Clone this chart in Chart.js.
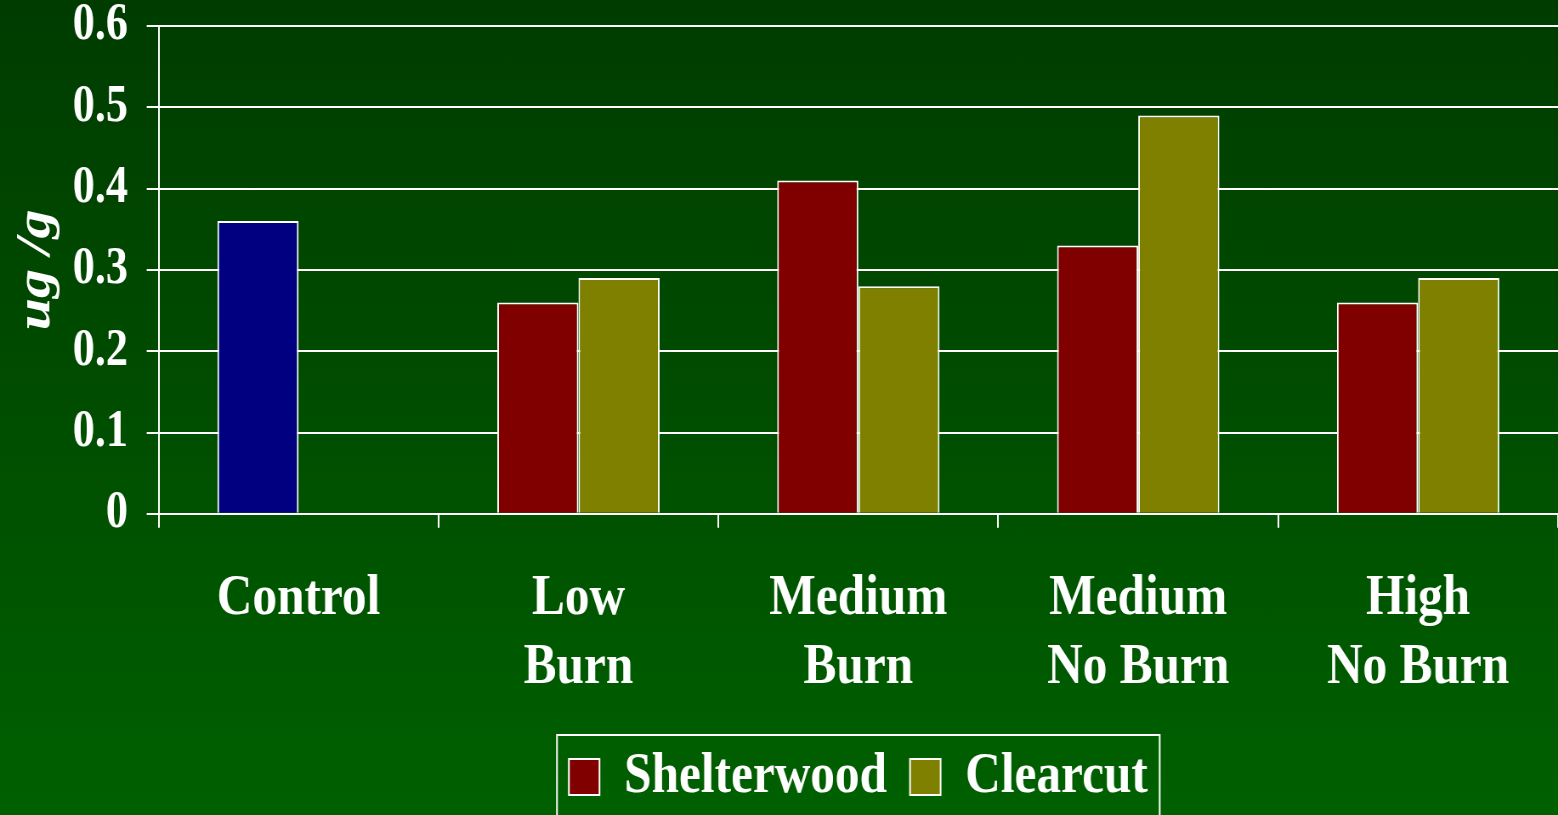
<!DOCTYPE html>
<html>
<head>
<meta charset="utf-8">
<script src="https://cdn.jsdelivr.net/npm/chart.js@4/dist/chart.umd.min.js"></script>
<style>
  html, body {
    margin: 0;
    padding: 0;
    overflow: hidden;
    width: 1558px;
    height: 815px;
    background: linear-gradient(to bottom, #003c00 0%, #004d00 50%, #006000 100%);
  }
  /* the chart is drawn wide and squeezed back, which gives the condensed type */
  #wrap {
    width: 1833px;
    height: 816px;
    transform: scaleX(0.85);
    transform-origin: 0 0;
  }
</style>
</head>
<body>
<div id="wrap"><canvas id="myGraph"></canvas></div>
<script>
var categories = [["Control"], ["Low", "Burn"], ["Medium", "Burn"], ["Medium", "No Burn"], ["High", "No Burn"]];
var seriesNames = ["Shelterwood", "Clearcut"];
// first value is the control plot, which has no clearcut counterpart
var shelterwood = [0.36, 0.26, 0.41, 0.33, 0.26];
var clearcut = [null, 0.29, 0.28, 0.49, 0.29];
var yTicks = ["0", "0.1", "0.2", "0.3", "0.4", "0.5", "0.6"];

var controlColor = "#000080";
var seriesColors = ["#800000", "#808000"];
var serif = "'Liberation Serif', 'Times New Roman', serif";

var shelterColors = shelterwood.map(function(v, i) {
  return i === 0 ? controlColor : seriesColors[0];
});

// centre the legend under the plot area and put a frame round it
var legendFrame = {
  id: "legendFrame",
  afterLayout: function(chart) {
    var legend = chart.legend;
    legend.left = chart.chartArea.left;
    legend.width = legend.right - legend.left;
  },
  afterDraw: function(chart) {
    var boxes = chart.legend.legendHitBoxes;
    if (!boxes || !boxes.length) return;
    var first = boxes[0];
    var last = boxes[boxes.length - 1];
    var mid = first.top + first.height / 2;
    var ctx = chart.ctx;
    ctx.save();
    ctx.strokeStyle = "#ffffff";
    ctx.lineWidth = 2;
    ctx.strokeRect(first.left - 14, mid - 42, last.left + last.width - first.left + 28, 84);
    ctx.restore();
  }
};

var graph = document.getElementById("myGraph").getContext("2d");

new Chart(graph, {
  type: "bar",
  data: {
    labels: categories,
    datasets: [
      {
        label: seriesNames[0],
        data: shelterwood,
        backgroundColor: shelterColors,
        borderColor: "#ffffff",
        borderWidth: 2
      },
      {
        label: seriesNames[1],
        data: clearcut,
        backgroundColor: seriesColors[1],
        borderColor: "#ffffff",
        borderWidth: 2
      }
    ]
  },
  options: {
    responsive: true,
    maintainAspectRatio: false,
    animation: false,
    categoryPercentage: 0.58,
    barPercentage: 1.0,
    layout: {
      padding: { top: 26, left: 0, right: 0, bottom: 0 }
    },
    plugins: {
      tooltip: { enabled: false },
      legend: {
        position: "bottom",
        labels: {
          color: "#ffffff",
          boxWidth: 36,
          boxHeight: 36,
          padding: 27,
          font: { family: serif, size: 58, weight: "bold" },
          generateLabels: function(chart) {
            var items = Chart.defaults.plugins.legend.labels.generateLabels(chart);
            items.forEach(function(item, i) {
              item.fillStyle = seriesColors[i];
              item.strokeStyle = "#ffffff";
              item.lineWidth = 2;
            });
            return items;
          }
        }
      }
    },
    scales: {
      x: {
        grid: {
          drawOnChartArea: false,
          color: "#ffffff",
          lineWidth: 2,
          tickLength: 14
        },
        border: { color: "#ffffff", width: 2 },
        ticks: {
          color: "#ffffff",
          padding: 36,
          maxRotation: 0,
          font: { family: serif, size: 58, weight: "bold", lineHeight: 1.2 }
        },
        afterFit: function(scale) {
          scale.height -= 18;
        }
      },
      y: {
        min: 0,
        max: 0.6,
        grid: {
          color: "#ffffff",
          lineWidth: 2,
          tickLength: 14
        },
        border: { color: "#ffffff", width: 2 },
        ticks: {
          stepSize: 0.1,
          color: "#ffffff",
          padding: 22,
          font: { family: serif, size: 52, weight: "bold", lineHeight: 1.0 },
          callback: function(value, index) {
            return yTicks[index];
          }
        },
        title: {
          display: true,
          text: "ug /g",
          color: "#ffffff",
          padding: { top: 8, bottom: 11 },
          font: { family: serif, size: 58, weight: "bold", style: "italic" }
        },
        afterFit: function(scale) {
          scale.width -= 25;
          // let the top gridline sit right under the layout padding
          scale.paddingTop = 0;
          scale.paddingBottom = 0;
        }
      }
    }
  },
  plugins: [legendFrame]
});
</script>
</body>
</html>
